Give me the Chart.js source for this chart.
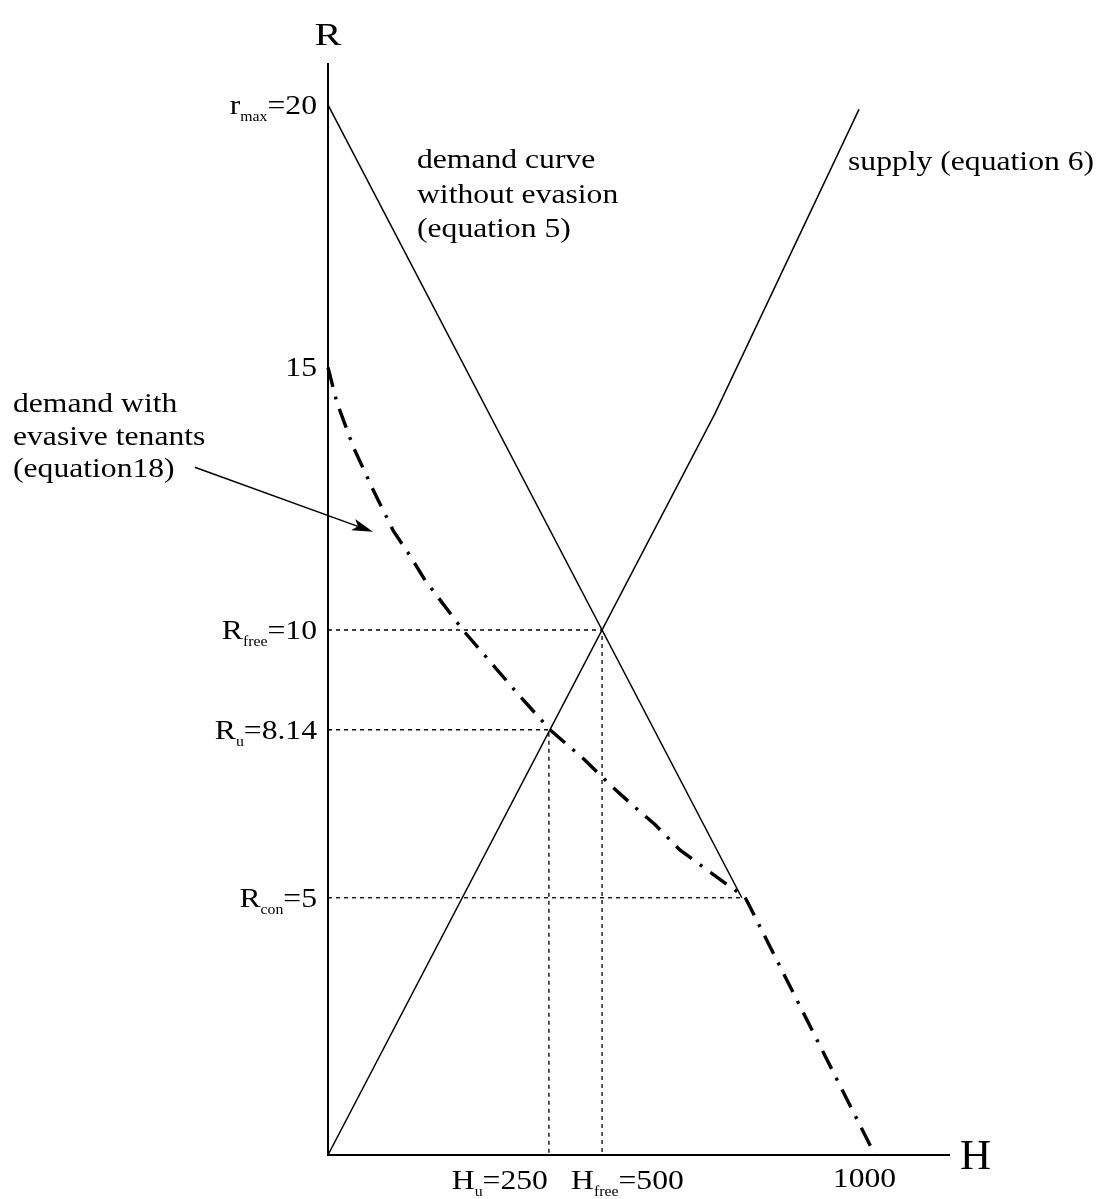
<!DOCTYPE html>
<html><head><meta charset="utf-8">
<script src="https://cdn.jsdelivr.net/npm/chart.js@4"></script>
<style>html,body{margin:0;padding:0;background:#fff}</style>
</head><body>
<canvas id="c" width="1100" height="1199"></canvas>
<script>
// ---- data (H = housing quantity, R = rent) ----
const demandH = [0, 755];
const demandR = [20, 4.9];
const supplyH = [0, 706, 969];
const supplyR = [0, 14.12, 19.92];
const evasiveH = [0, 16, 46, 80, 119, 151, 177, 246, 345, 405, 469, 515, 557, 597, 642, 719, 761, 998];
const evasiveR = [15, 14.34, 13.49, 12.72, 11.89, 11.39, 10.95, 10.0, 8.8, 8.1, 7.52, 7.05, 6.65, 6.29, 5.81, 5.22, 4.91, 0];
const freeGuideH = [0, 500, 500];
const freeGuideR = [10, 10, 0];
const uGuideH = [0, 403, 403];
const uGuideR = [8.1, 8.1, 0];
const conGuideH = [0, 755];
const conGuideR = [4.9, 4.9];
const yTickValues = [20, 15, 10, 8.1, 4.9];
const yTickLabels = [['r', 'max', '=20'], ['15'], ['R', 'free', '=10'], ['R', 'u', '=8.14'], ['R', 'con', '=5']];
const xTickValues = [403, 500, 1000];
const xTickLabels = [['H', 'u', '=250'], ['H', 'free', '=500'], ['1000']];
const axisTitleX = 'H';
const axisTitleY = 'R';
const noteDemand = ['demand curve', 'without evasion', '(equation 5)'];
const noteSupply = ['supply (equation 6)'];
const noteEvasive = ['demand with', 'evasive tenants', '(equation18)'];

const pts = (xs, ys) => xs.map((x, i) => ({x: x, y: ys[i]}));

const FAMILY = '"Liberation Serif", "Times New Roman", serif';
const SIZE = 28, SUB = 14, SX = 1.13;

function richWidth(ctx, parts, size, sub, sx) {
  let w = 0;
  parts.forEach((t, i) => {
    ctx.font = (i % 2 === 1 ? sub : size) + 'px ' + FAMILY;
    w += ctx.measureText(t).width * sx;
  });
  return w;
}
function drawRich(ctx, parts, x, y, align, size, sub, sx) {
  size = size || SIZE; sub = sub || SUB; sx = sx || SX;
  const w = richWidth(ctx, parts, size, sub, sx);
  let cx = align === 'right' ? x - w : (align === 'center' ? x - w / 2 : x);
  parts.forEach((t, i) => {
    const isSub = i % 2 === 1;
    ctx.font = (isSub ? sub : size) + 'px ' + FAMILY;
    ctx.save();
    ctx.translate(cx, y + (isSub ? 7 : 0));
    ctx.scale(sx, 1);
    ctx.textAlign = 'left';
    ctx.textBaseline = 'alphabetic';
    ctx.fillStyle = '#000';
    ctx.fillText(t, 0, 0);
    ctx.restore();
    cx += ctx.measureText(t).width * sx;
  });
}

const labelsPlugin = {
  id: 'labels',
  afterDraw(chart) {
    const ctx = chart.ctx;
    const xs = chart.scales.x, ys = chart.scales.y;
    const x0 = xs.getPixelForValue(0), y0 = ys.getPixelForValue(0);
    // y tick labels
    yTickValues.forEach((v, i) => {
      drawRich(ctx, yTickLabels[i], x0 - 11, ys.getPixelForValue(v) + 9, 'right');
    });
    // x tick labels
    const xb = y0 + 34;
    drawRich(ctx, xTickLabels[0], xs.getPixelForValue(xTickValues[0]) - 1, xb, 'right');
    drawRich(ctx, xTickLabels[1], xs.getPixelForValue(xTickValues[1]) - 31, xb, 'left');
    drawRich(ctx, xTickLabels[2], xs.getPixelForValue(xTickValues[2]) + 20, xb - 2, 'right');
    // axis titles
    drawRich(ctx, [axisTitleY], x0, chart.chartArea.top - 19, 'center', 31, SUB, 1.3);
    drawRich(ctx, [axisTitleX], chart.chartArea.right + 11, y0 + 14, 'left', 43, SUB, 1.0);
    // notes
    noteDemand.forEach((t, i) => drawRich(ctx, [t], 417, 168 + i * 34.5, 'left'));
    noteSupply.forEach((t, i) => drawRich(ctx, [t], 848, 170 + i * 34.5, 'left'));
    noteEvasive.forEach((t, i) => drawRich(ctx, [t], 13, 412 + i * 32.5, 'left'));
    // arrow
    const tx = xs.getPixelForValue(-243), ty = ys.getPixelForValue(13.1);
    const hx = xs.getPixelForValue(82), hy = ys.getPixelForValue(11.87);
    const ang = Math.atan2(hy - ty, hx - tx);
    const L = 21, W = 6;
    const bx = hx - L * Math.cos(ang), by = hy - L * Math.sin(ang);
    ctx.save();
    ctx.strokeStyle = '#000'; ctx.fillStyle = '#000'; ctx.lineWidth = 1.4;
    ctx.beginPath(); ctx.moveTo(tx, ty); ctx.lineTo(bx + 5 * Math.cos(ang), by + 5 * Math.sin(ang)); ctx.stroke();
    ctx.beginPath();
    ctx.moveTo(hx, hy);
    ctx.lineTo(bx - W * Math.sin(ang), by + W * Math.cos(ang));
    ctx.lineTo(bx + 5 * Math.cos(ang), by + 5 * Math.sin(ang));
    ctx.lineTo(bx + W * Math.sin(ang), by - W * Math.cos(ang));
    ctx.closePath(); ctx.fill();
    ctx.restore();
  }
};

const solid = {borderColor: '#000', borderWidth: 1.5, showLine: true, pointRadius: 0, fill: false, clip: false};
const dotted = {borderColor: '#000', borderWidth: 1.3, borderDash: [4, 4], showLine: true, pointRadius: 0, fill: false, clip: false};

new Chart(document.getElementById('c'), {
  type: 'scatter',
  data: {
    datasets: [
      Object.assign({label: 'R_free guide', data: pts(freeGuideH, freeGuideR)}, dotted),
      Object.assign({label: 'R_u guide', data: pts(uGuideH, uGuideR)}, dotted),
      Object.assign({label: 'R_con guide', data: pts(conGuideH, conGuideR)}, dotted),
      Object.assign({label: 'demand curve without evasion', data: pts(demandH, demandR)}, solid),
      Object.assign({label: 'supply', data: pts(supplyH, supplyR)}, solid),
      {label: 'demand with evasive tenants', data: pts(evasiveH, evasiveR), borderColor: '#000', borderWidth: 3.4,
       borderDash: [20, 10, 3, 10], borderCapStyle: 'butt', showLine: true, pointRadius: 0, fill: false, clip: false}
    ]
  },
  options: {
    responsive: false,
    animation: false,
    layout: {padding: {left: 328, right: 151, top: 64, bottom: 44}},
    plugins: {legend: {display: false}, tooltip: {enabled: false}},
    elements: {line: {tension: 0}, point: {radius: 0}},
    scales: {
      x: {type: 'linear', min: 0, max: 1133, ticks: {display: false}, grid: {display: false, drawTicks: false},
          border: {display: true, color: '#000', width: 2}},
      y: {type: 'linear', min: 0, max: 20.78, ticks: {display: false}, grid: {display: false, drawTicks: false},
          border: {display: true, color: '#000', width: 2}}
    }
  },
  plugins: [labelsPlugin]
});
</script>
</body></html>
